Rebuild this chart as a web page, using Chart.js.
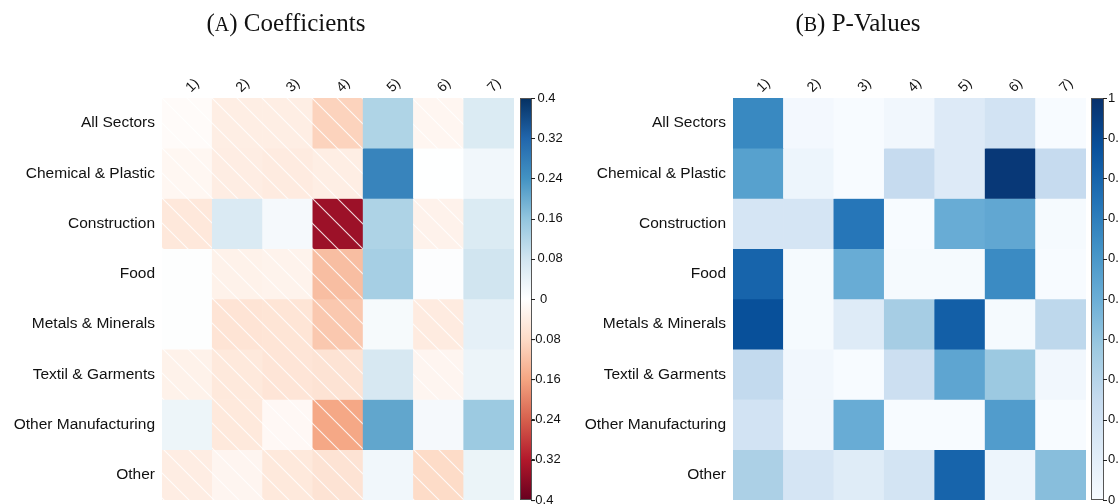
<!DOCTYPE html>
<html>
<head>
<meta charset="utf-8">
<script src="https://cdn.jsdelivr.net/npm/chart.js@4.4.1/dist/chart.umd.min.js"></script>
<style>
  html, body { margin: 0; padding: 0; background: #fff; overflow: hidden; width: 1119px; height: 504px; }
  .panel { position: absolute; top: 0; height: 504px; }
  #panelA { left: 0; width: 575px; z-index: 2; }
  #panelB { left: 560px; width: 559px; z-index: 1; }
  canvas { display: block; }
</style>
</head>
<body>
<div class="panel" id="panelA"><canvas id="coefChart" width="575" height="504"></canvas></div>
<div class="panel" id="panelB"><canvas id="pvalChart" width="559" height="504"></canvas></div>
<script>
// Sectors (rows) and specifications (columns)
const sectors = [
  'All Sectors', 'Chemical & Plastic', 'Construction', 'Food',
  'Metals & Minerals', 'Textil & Garments', 'Other Manufacturing', 'Other'
];
const specs = ['1)', '2)', '3)', '4)', '5)', '6)', '7)'];

// Estimated coefficients, one row per sector
const allSectorsCoef   = [-0.009, -0.038, -0.038, -0.092,  0.123, -0.020, 0.063];
const chemicalCoef     = [-0.018, -0.040, -0.045, -0.038,  0.266,  0.001, 0.024];
const constructionCoef = [-0.051,  0.064,  0.017, -0.343,  0.125, -0.029, 0.063];
const foodCoef         = [ 0.003, -0.030, -0.027, -0.123,  0.135,  0.005, 0.080];
const metalsCoef       = [ 0.004, -0.060, -0.058, -0.108,  0.015, -0.045, 0.045];
const textilCoef       = [-0.030, -0.050, -0.057, -0.062,  0.070, -0.022, 0.033];
const otherManufCoef   = [ 0.032, -0.050, -0.015, -0.155,  0.210,  0.017, 0.147];
const otherCoef        = [-0.040, -0.022, -0.050, -0.062,  0.024, -0.078, 0.035];
const coefficients = [allSectorsCoef, chemicalCoef, constructionCoef, foodCoef,
                      metalsCoef, textilCoef, otherManufCoef, otherCoef];

// Estimated p-values, one row per sector
const allSectorsP   = [0.66, 0.02, 0.00, 0.03, 0.13, 0.19, 0.00];
const chemicalP     = [0.56, 0.05, 0.00, 0.25, 0.13, 0.97, 0.25];
const constructionP = [0.17, 0.17, 0.73, 0.00, 0.51, 0.53, 0.01];
const foodP         = [0.80, 0.01, 0.51, 0.01, 0.01, 0.65, 0.00];
const metalsP       = [0.88, 0.01, 0.125, 0.35, 0.82, 0.01, 0.275];
const textilP       = [0.26, 0.03, 0.00, 0.22, 0.54, 0.38, 0.03];
const otherManufP   = [0.19, 0.03, 0.51, 0.00, 0.00, 0.58, 0.00];
const otherP        = [0.33, 0.17, 0.12, 0.18, 0.80, 0.05, 0.43];
const pValues = [allSectorsP, chemicalP, constructionP, foodP,
                 metalsP, textilP, otherManufP, otherP];

// Colour bar tick labels
const coefTicks = [-0.4, -0.32, -0.24, -0.16, -0.08, 0, 0.08, 0.16, 0.24, 0.32, 0.4];
const pTicks = [0, 0.1, 0.2, 0.3, 0.4, 0.5, 0.6, 0.7, 0.8, 0.9, 1];

// Colour ramps
const rdBu = ['#67001F', '#B2182B', '#D6604D', '#F4A582', '#FDDBC7', '#FFFFFF',
              '#D1E5F0', '#92C5DE', '#4393C3', '#2166AC', '#053061'];
const blues = ['#F7FBFF', '#DEEBF7', '#C6DBEF', '#9ECAE1', '#6BAED6',
               '#4292C6', '#2171B5', '#08519C', '#08306B'];

function hexToRgb(h) {
  const n = parseInt(h.slice(1), 16);
  return [(n >> 16) & 255, (n >> 8) & 255, n & 255];
}
function makeRamp(stops, lo, hi) {
  const rgb = stops.map(hexToRgb);
  return v => {
    let t = (v - lo) / (hi - lo);
    t = Math.max(0, Math.min(1, t));
    const f = t * (rgb.length - 1);
    const i = Math.min(Math.floor(f), rgb.length - 2);
    const u = f - i;
    const c = rgb[i].map((a, k) => Math.round(a + (rgb[i + 1][k] - a) * u));
    return `rgb(${c[0]},${c[1]},${c[2]})`;
  };
}
const coefColor = makeRamp(rdBu, -0.4, 0.4);
const pColor = makeRamp(blues, 0, 1);

// Diagonal white hatching for negative coefficients
const HATCH = 25;
function hatchFill(color, ox, oy) {
  const c = document.createElement('canvas');
  c.width = HATCH; c.height = HATCH;
  const g = c.getContext('2d');
  g.fillStyle = color;
  g.fillRect(0, 0, HATCH, HATCH);
  g.strokeStyle = 'rgba(255,255,255,0.85)';
  g.lineWidth = 1.1;
  g.beginPath();
  g.moveTo(-2, -2); g.lineTo(HATCH + 2, HATCH + 2);
  g.moveTo(-2, HATCH - 2); g.lineTo(2, HATCH + 2);
  g.moveTo(HATCH - 2, -2); g.lineTo(HATCH + 2, 2);
  g.stroke();
  const p = g.createPattern(c, 'repeat');
  p.setTransform(new DOMMatrix([1, 0, 0, 1, ox, oy]));
  return p;
}

// Colour bar labels: non-negative values are indented so the digits line up
function fmt(v) {
  const r = Math.round(v * 100) / 100;
  if (r < 0) return String(r);
  return '\u2002' + (r === 0 ? '\u20090' : String(r));
}

function buildDatasets(values, colorOf, hatchNegatives, origin) {
  return sectors.map((name, r) => ({
    label: name,
    data: specs.map(() => [r, r + 1]),
    backgroundColor: values[r].map(v => {
      const col = colorOf(v);
      return hatchNegatives && v < 0 ? hatchFill(col, origin[0], origin[1]) : col;
    })
  }));
}

// Gradient strip drawn alongside the 'cb' scale
const colorBar = {
  id: 'colorBar',
  afterDraw(chart, args, opts) {
    const s = chart.scales.cb;
    const ctx = chart.ctx;
    const x0 = chart.chartArea.right + opts.gap;
    const w = opts.width;
    const g = ctx.createLinearGradient(0, s.bottom, 0, s.top);
    opts.stops.forEach((c, i) => g.addColorStop(i / (opts.stops.length - 1), c));
    ctx.save();
    ctx.fillStyle = g;
    ctx.fillRect(x0, s.top, w, s.bottom - s.top);
    ctx.strokeStyle = '#555';
    ctx.lineWidth = 1;
    ctx.strokeRect(x0 + 0.5, s.top + 0.5, w - 1, s.bottom - s.top - 1);
    ctx.strokeStyle = '#222';
    s.ticks.forEach(t => {
      const y = Math.round(s.getPixelForValue(t.value)) + 0.5;
      ctx.beginPath();
      ctx.moveTo(x0 + w - 1, y);
      ctx.lineTo(x0 + w + 3, y);
      ctx.stroke();
    });
    ctx.restore();
  }
};

// Panel heading with a small-capital letter
const panelTitle = {
  id: 'panelTitle',
  afterDraw(chart, args, opts) {
    const ctx = chart.ctx;
    const big = `${opts.size}px "Liberation Serif", "DejaVu Serif", serif`;
    const small = `${Math.round(opts.size * 0.78)}px "Liberation Serif", "DejaVu Serif", serif`;
    const parts = [['(', big], [opts.letter, small], [') ' + opts.text, big]];
    ctx.save();
    let total = 0;
    parts.forEach(([t, f]) => { ctx.font = f; total += ctx.measureText(t).width; });
    let x = opts.x - total / 2;
    ctx.fillStyle = '#111';
    ctx.textBaseline = 'alphabetic';
    parts.forEach(([t, f]) => { ctx.font = f; ctx.fillText(t, x, opts.y); x += ctx.measureText(t).width; });
    ctx.restore();
  }
};

function noVerticalPadding(s) {
  s.paddingTop = 0;
  s.paddingBottom = 0;
}

function makeChart(canvasId, values, colorOf, hatchNegatives, cfg) {
  const ctx = document.getElementById(canvasId);
  return new Chart(ctx, {
    type: 'bar',
    data: {
      labels: specs,
      datasets: buildDatasets(values, colorOf, hatchNegatives, [cfg.left, cfg.top])
    },
    plugins: [colorBar, panelTitle],
    options: {
      responsive: false,
      animation: false,
      devicePixelRatio: 1,
      layout: { padding: { top: 0, bottom: 4, left: 0, right: 0 } },
      datasets: {
        bar: { grouped: false, barPercentage: 1, categoryPercentage: 1, borderWidth: 0, borderSkipped: false }
      },
      plugins: {
        legend: { display: false },
        tooltip: { enabled: false },
        title: { display: false },
        colorBar: { gap: cfg.gap, width: cfg.barWidth, stops: cfg.stops },
        panelTitle: { x: cfg.titleX, y: 31, size: 25, letter: cfg.letter, text: cfg.title }
      },
      scales: {
        x: {
          type: 'category',
          position: 'top',
          grid: { display: false, drawTicks: false },
          border: { display: false },
          ticks: {
            minRotation: 45, maxRotation: 45, padding: 2, labelOffset: 13, autoSkip: false,
            color: '#111', font: { family: '"Liberation Sans", Arial, sans-serif', size: 14 }
          },
          afterFit(s) { s.height = cfg.top; s.paddingLeft = 0; s.paddingRight = 0; }
        },
        y: {
          type: 'linear',
          min: 0, max: sectors.length,
          reverse: true,
          grid: { display: false, drawTicks: false },
          border: { display: false },
          afterBuildTicks(s) { s.ticks = sectors.map((_, i) => ({ value: i + 0.5 })); },
          ticks: {
            autoSkip: false, padding: 7,
            color: '#111', font: { family: '"Liberation Sans", Arial, sans-serif', size: 15.5 },
            callback: (v, i) => sectors[i]
          },
          afterFit(s) { s.width = cfg.left; noVerticalPadding(s); }
        },
        cb: {
          type: 'linear',
          position: 'right',
          min: cfg.ticks[0], max: cfg.ticks[cfg.ticks.length - 1],
          grid: { display: false, drawTicks: false },
          border: { display: false },
          afterBuildTicks(s) { s.ticks = cfg.ticks.map(v => ({ value: v })); },
          ticks: {
            autoSkip: false, padding: cfg.labelPad,
            color: '#111', font: { family: '"Liberation Sans", Arial, sans-serif', size: 13 },
            callback: cfg.format
          },
          afterFit(s) { s.width = cfg.cbWidth; noVerticalPadding(s); }
        }
      }
    }
  });
}

makeChart('coefChart', coefficients, coefColor, true, {
  left: 162, top: 98, cbWidth: 61, gap: 6, barWidth: 12, labelPad: 17,
  stops: rdBu, ticks: coefTicks, titleX: 286, letter: 'A', title: 'Coefficients',
  format: v => fmt(v)
});
makeChart('pvalChart', pValues, pColor, false, {
  left: 173, top: 98, cbWidth: 33, gap: 5, barWidth: 13, labelPad: 22,
  stops: blues, ticks: pTicks, titleX: 298, letter: 'B', title: 'P-Values',
  format: v => String(Math.round(v * 10) / 10)
});
</script>
</body>
</html>
